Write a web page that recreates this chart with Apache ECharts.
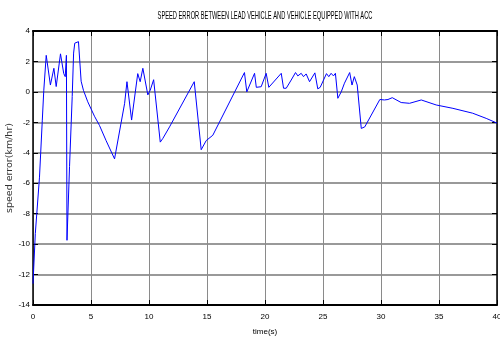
<!DOCTYPE html>
<html>
<head>
<meta charset="utf-8">
<script src="https://cdn.jsdelivr.net/npm/echarts@6/dist/echarts.min.js"></script>
<style>html,body{margin:0;padding:0;background:#fff}#c{width:500px;height:340px}</style>
</head>
<body>
<div id="c"></div>
<script>
const titleText = 'SPEED ERROR BETWEEN LEAD VEHICLE AND VEHICLE EQUIPPED WITH ACC';
const xAxisName = 'time(s)';
const yAxisName = 'speed error(km/hr)';
const xTicks = [0, 5, 10, 15, 20, 25, 30, 35, 40];
const yTicks = [-14, -12, -10, -8, -6, -4, -2, 0, 2, 4];
const time = [0, 0.2, 0.56, 0.8, 0.93, 1.14, 1.2, 1.5, 1.8, 2.0, 2.37, 2.65, 2.78, 2.88, 2.93, 3.15, 3.38, 3.5, 3.6, 3.92, 4.0,
  4.15, 4.35, 4.72, 5.3, 5.73, 6.3, 7.03, 7.9, 8.1, 8.26, 8.5, 9.03, 9.24, 9.47, 9.9, 9.98, 10.1, 10.4, 10.97, 11.2, 11.77,
  13.9, 14.5, 14.93, 15.5, 18.23, 18.43, 19.1, 19.25, 19.67, 20.1, 20.33, 21.4, 21.6, 21.83, 22.26, 22.63, 22.83, 23.12,
  23.32, 23.55, 23.84, 24.3, 24.55, 24.76, 25.3, 25.5, 25.7, 25.9, 26.07, 26.28, 26.57, 26.85, 27.3, 27.5, 27.7, 27.95,
  28.3, 28.6, 29.9, 30.0, 30.3, 30.6, 30.97, 31.74, 32.46, 33.47, 34.76, 36.2, 37.9, 39.07, 40];
const speedError = [-12.6, -9.3, -5.6, -1.9, 0.1, 2.4, 2.45, 0.45, 1.55, 0.35, 2.5, 1.2, 1.0, 2.4, -9.75, -4.9, -0.3, 2.55, 3.2, 3.3, 3.35,
  0.7, 0.1, -0.65, -1.6, -2.2, -3.2, -4.4, -0.75, 0.67, 0.7, -1.85, 1.2, 0.67, 1.55, -0.2, -0.3, 0.1, 0.8, -3.3, -3.05, -2.3,
  0.67, -3.8, -3.2, -2.85, 1.27, 0.0, 1.22, 0.3, 0.34, 1.22, 0.3, 1.22, 0.24, 0.24, 0.78, 1.27, 1.05, 1.22,
  1.0, 1.18, 0.67, 1.25, 0.2, 0.3, 1.2, 1.0, 1.22, 1.05, 1.22, -0.42, 0.0, 0.57, 1.27, 0.45, 1.0, 0.45,
  -2.4, -2.3, -0.5, -0.42, -0.53, -0.5, -0.38, -0.7, -0.75, -0.53, -0.86, -1.08, -1.4, -1.74, -2.05];

const FONT = '"Liberation Sans Narrow", "Liberation Sans", Arial, sans-serif';
const chart = echarts.init(document.getElementById('c'), null, {renderer: 'canvas'});
const xMin = xTicks[0], xMax = xTicks[xTicks.length - 1], xInt = xTicks[1] - xTicks[0];
const yMin = yTicks[0], yMax = yTicks[yTicks.length - 1], yInt = yTicks[1] - yTicks[0];
chart.setOption({
  animation: false,
  backgroundColor: '#fff',
  graphic: [{
    type: 'text', x: 265, y: 10, scaleX: 0.52, originX: 0, originY: 0,
    style: {text: titleText, x: 0, y: 0, fontFamily: '"Liberation Sans", Arial, sans-serif', fontSize: 11, fill: '#000', align: 'center', verticalAlign: 'top'}
  }],
  grid: {left: 33, right: 3, top: 31, bottom: 35, containLabel: false, outerBoundsMode: 'none'},
  xAxis: [{
    type: 'value', min: xMin, max: xMax, interval: xInt,
    name: xAxisName, nameLocation: 'middle', nameGap: 23, nameMoveOverlap: false,
    nameTextStyle: {fontFamily: FONT, fontSize: 8, color: '#000'},
    axisLine: {show: true, onZero: false, lineStyle: {color: '#000', width: 2}},
    axisTick: {show: true, inside: true, length: 5, lineStyle: {color: '#000'}},
    axisLabel: {fontFamily: FONT, fontSize: 8, color: '#000', margin: 8},
    splitLine: {show: true, lineStyle: {color: '#8a8a8a', width: 1}}
  }, {
    type: 'value', position: 'top', min: xMin, max: xMax, interval: xInt,
    axisLine: {show: true, onZero: false, lineStyle: {color: '#000', width: 2}},
    axisTick: {show: true, inside: true, length: 5, lineStyle: {color: '#000'}},
    axisLabel: {show: false}, splitLine: {show: false}
  }],
  yAxis: [{
    type: 'value', min: yMin, max: yMax, interval: yInt,
    name: yAxisName, nameLocation: 'middle', nameGap: 18, nameRotate: 90, nameMoveOverlap: false,
    nameTextStyle: {fontFamily: '"DejaVu Sans", sans-serif', fontSize: 9.5, color: '#333'},
    axisLine: {show: true, onZero: false, lineStyle: {color: '#000', width: 1.5}},
    axisTick: {show: true, inside: true, length: 5, lineStyle: {color: '#000'}},
    axisLabel: {fontFamily: FONT, fontSize: 8, color: '#000', margin: 3},
    splitLine: {show: true, lineStyle: {color: '#999', width: 2}}
  }, {
    type: 'value', position: 'right', min: yMin, max: yMax, interval: yInt,
    axisLine: {show: true, onZero: false, lineStyle: {color: '#000', width: 1.5}},
    axisTick: {show: true, inside: true, length: 5, lineStyle: {color: '#000'}},
    axisLabel: {show: false}, splitLine: {show: false}
  }],
  series: [{
    type: 'line',
    data: time.map((t, i) => [t, speedError[i]]),
    showSymbol: false, symbol: 'none', smooth: false,
    lineStyle: {color: '#0000ff', width: 1},
    z: 5
  }]
});
</script>
</body>
</html>
